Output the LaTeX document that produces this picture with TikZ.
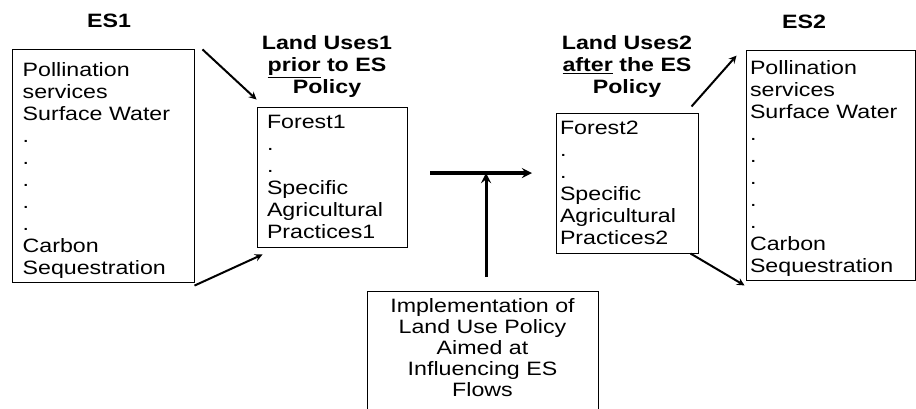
\documentclass[tikz,border=0pt]{standalone}
\usepackage{fontspec}
\setmainfont[FakeStretch=1.2]{Liberation Sans}
\usetikzlibrary{calc}

\begin{document}
\begin{tikzpicture}[x=0.75pt,y=-0.75pt,
    every node/.style={font=\fontsize{14.5}{16.5}\selectfont},
    box/.style={draw,line width=0.75pt,rectangle,align=left,inner ysep=3pt},
    heading/.style={font=\fontsize{14.5}{16.5}\selectfont\bfseries,align=center,inner sep=0pt},
    arr/.style={line width=1.5pt,-stealth},
    bigarr/.style={line width=2.3pt,-stealth}]
    \useasboundingbox (0,0) rectangle (916,408);
    % service boxes and land use boxes
    \node[box,minimum height=171pt,text width=120.5pt,inner xsep=8pt,text height=16.6pt] (es1) at (103,166)
        {Pollination\\services\\Surface Water\\.\\.\\.\\.\\.\\Carbon\\Sequestration};
    \node[box,minimum height=105pt,text width=97.5pt,inner xsep=7.5pt] (lu1) at (332,177)
        {Forest1\\.\\.\\Specific\\Agricultural\\Practices1};
    \node[box,minimum height=105pt,text width=100.5pt,inner xsep=3pt] (lu2) at (627,183)
        {Forest2\\.\\.\\Specific\\Agricultural\\Practices2};
    \node[box,minimum height=170.25pt,text width=120.75pt,inner xsep=3pt,text height=15.6pt] (es2) at (830.5,165.5)
        {Pollination\\services\\Surface Water\\.\\.\\.\\.\\.\\Carbon\\Sequestration};
    \node[box,anchor=north,align=center,text width=163.25pt,inner xsep=5pt,inner ysep=5pt,
        text depth=76pt,font=\fontsize{14.5}{15.9}\selectfont] (policy) at (482.5,291)
        {Implementation of\\Land Use Policy\\Aimed at\\Influencing ES\\Flows};
    % headings
    \node[heading] (es1head) at (109,21) {ES1};
    \node[heading] (lu1head) at (327,66) {Land Uses1\\\underline{prior} to ES\\Policy};
    \node[heading] (lu2head) at (627,66) {Land Uses2\\\underline{after} the ES\\Policy};
    \node[heading] (es2head) at (804,22) {ES2};
    % arrows
    \draw[arr] ([xshift=6pt]es1.north east) -- ([yshift=5.25pt]lu1.north west);
    \draw[arr] ([yshift=-2.25pt]es1.south east) -- ([shift={(4.5pt,-5.25pt)}]lu1.south west);
    \draw[arr] ([shift={(-5.25pt,4.5pt)}]lu2.north east) -- ([shift={(-6.75pt,-4.5pt)}]es2.north west);
    \draw[arr] ([xshift=-6pt]lu2.south east) -- ([shift={(-0.75pt,-3pt)}]es2.south west);
    \coordinate (tl) at (430,173);
    \coordinate (tr) at (532,173);
    \coordinate (tm) at ($(tl)!.55!(tr)$);
    \draw[bigarr] (tl) -- (tr);
    \draw[bigarr] (policy.north -| tm) ++(0,-14) -- (tm);
\end{tikzpicture}
\end{document}
